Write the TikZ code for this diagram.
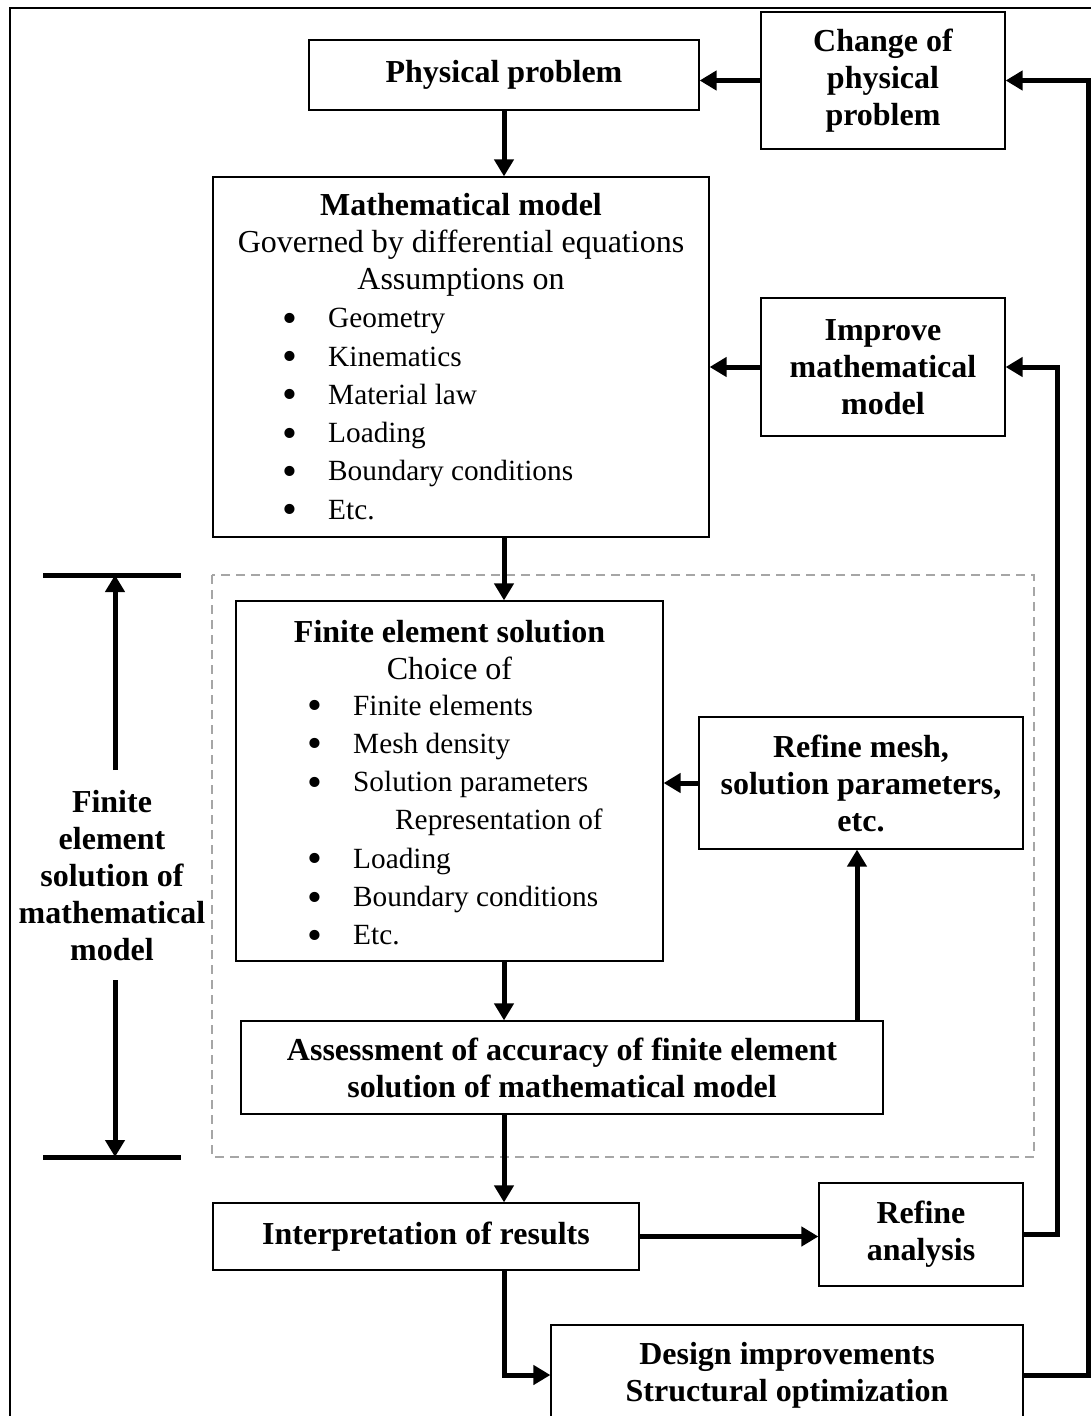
\documentclass[tikz,border=0pt]{standalone}
\usepackage{fontspec}
\setmainfont{Liberation Serif}
\usetikzlibrary{arrows.meta, positioning, calc}

\newcommand{\itm}{\makebox[46pt][l]{\raisebox{-4.5pt}{\scalebox{1.45}{\textbullet}}}}

\begin{document}
\begin{tikzpicture}[
  x=1pt, y=-1pt,
  box/.style={draw, line width=1.2pt, inner sep=0pt, align=center, font=\fontsize{32}{37}\selectfont\bfseries},
  txt/.style={inner sep=0pt, align=center, font=\fontsize{32}{37}\selectfont},
  list/.style={inner sep=0pt, align=left, anchor=west, font=\fontsize{29.3}{38.3}\selectfont},
  arrow/.style={-{Triangle[length=17pt, width=19pt]}, line width=5pt},
  bar/.style={line width=5pt}
]
  \clip (0,0) rectangle (1091,1416);
  \draw[line width=2pt] (10,8) rectangle (1100,1430);

  % boxes
  \node[box, minimum width=390pt, minimum height=70pt] (phys) at (504,75) {Physical problem};
  \node[box, minimum width=244pt, minimum height=137pt] (change) at (883,80.5) {Change of\\physical\\problem};
  \node[box, minimum width=496pt, minimum height=360pt] (math) at (461,357) {};
  \node[box, minimum width=244pt, minimum height=138pt] (improve) at (883,367) {Improve\\mathematical\\model};
  \node[box, minimum width=427pt, minimum height=360pt] (fe) at (449.5,781) {};
  \node[box, minimum width=324pt, minimum height=132pt] (refmesh) at (861,783) {Refine mesh,\\solution parameters,\\etc.};
  \node[box, minimum width=642pt, minimum height=93pt] (assess) at (562,1067.5) {Assessment of accuracy of finite element\\solution of mathematical model};
  \node[box, minimum width=426pt, minimum height=67pt] (interp) at (426,1236.5) {Interpretation of results};
  \node[box, minimum width=204pt, minimum height=103pt] (ranal) at (921,1234.5) {Refine\\analysis};
  \node[box, minimum width=472pt, minimum height=100pt] (design) at (787,1375) {Design improvements\\Structural optimization};

  % texts inside the two large boxes
  \node[txt] (mathtitle) at (461,245) {\textbf{Mathematical model}\\Governed by differential equations\\Assumptions on};
  \node[list] (mathlist) at (282,416) {\itm Geometry\\\itm Kinematics\\\itm Material law\\\itm Loading\\\itm Boundary conditions\\\itm Etc.};
  \node[txt] (fetitle) at (449.5,650) {\textbf{Finite element solution}\\Choice of};
  \node[list] (felist) at (307,822) {\itm Finite elements\\\itm Mesh density\\\itm Solution parameters\\\hspace*{88pt}Representation of\\\itm Loading\\\itm Boundary conditions\\\itm Etc.};

  % dashed region and its label
  \draw[gray!70, line width=1.5pt, dash pattern=on 9pt off 6pt] (212,575) rectangle (1034,1157);
  \node[txt, font=\fontsize{32}{37}\selectfont\bfseries] (fesol) at (112,876) {Finite\\element\\solution of\\mathematical\\model};
  \coordinate (bartop) at (115,575);
  \coordinate (barbot) at (115,1157);
  \coordinate (upfrom) at (115,770);
  \coordinate (downfrom) at (115,980);
  \draw[bar] (43,575) -- (181,575);
  \draw[bar] (43,1157) -- (181,1157);
  \draw[arrow] (upfrom) -- (bartop);
  \draw[arrow] (downfrom) -- (barbot);

  % main spine
  \coordinate (spine) at (504,0);
  \draw[arrow] (phys.south) -- (phys.south |- math.north);
  \draw[arrow] (math.south -| spine) -- (fe.north -| spine);
  \draw[arrow] (fe.south -| spine) -- (assess.north -| spine);
  \draw[arrow] (assess.south -| spine) -- (interp.north -| spine);
  \draw[arrow] (interp.south -| spine) |- (design.west);

  % feedback loops
  \draw[arrow] (change.west) -- (change.west -| phys.east);
  \draw[arrow] (improve.west) -- (improve.west -| math.east);
  \draw[arrow] (refmesh.west) -- (refmesh.west -| fe.east);
  \draw[arrow] ([xshift=-4pt]refmesh.south |- assess.north) -- ([xshift=-4pt]refmesh.south);
  \draw[arrow] (interp.east) -- (interp.east -| ranal.west);
  \draw[arrow] (ranal.east) -- ++(34,0) |- (improve.east);
  \draw[arrow] (design.east) -- ++(65,0) |- (change.east);
\end{tikzpicture}
\end{document}
